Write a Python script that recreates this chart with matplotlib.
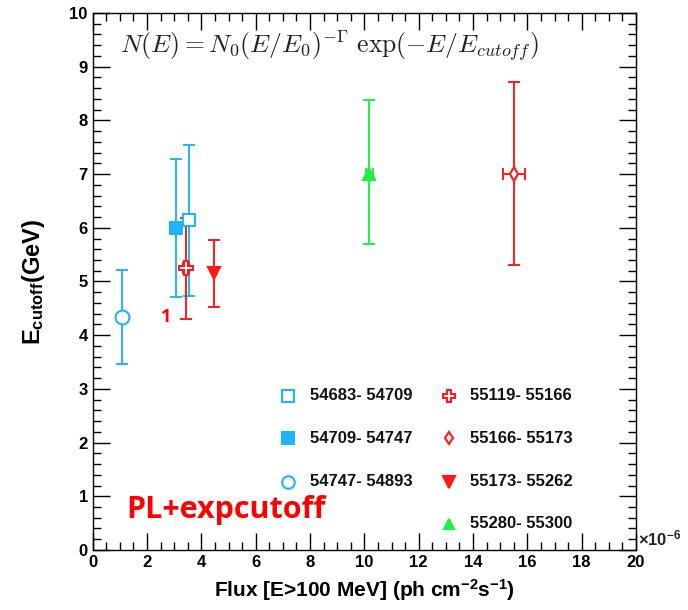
import numpy as np
import matplotlib.pyplot as plt
from matplotlib.ticker import MultipleLocator

plt.rcParams['font.family'] = ['Liberation Sans', 'DejaVu Sans']
plt.rcParams['mathtext.fontset'] = 'custom'
plt.rcParams['mathtext.rm'] = 'Liberation Sans:bold'
plt.rcParams['mathtext.it'] = 'Liberation Sans:bold'
plt.rcParams['mathtext.bf'] = 'Liberation Sans:bold'

# --- data: flux (1e-6 ph cm^-2 s^-1) vs cutoff energy (GeV) ---
periods = ["54683- 54709", "54709- 54747", "54747- 54893",
           "55119- 55166", "55166- 55173", "55173- 55262", "55280- 55300"]
flux = [3.56, 3.08, 1.08, 3.44, 15.5, 4.48, 10.18]
flux_err = [0.0, 0.0, 0.0, 0.1, 0.4, 0.0, 0.12]
ecut = [6.15, 6.00, 4.33, 5.25, 7.00, 5.16, 7.00]
ecut_lo = [1.42, 1.28, 0.87, 0.95, 1.70, 0.63, 1.31]
ecut_hi = [1.39, 1.29, 0.88, 0.94, 1.71, 0.61, 1.38]

blue = '#1fb5f7'
red = '#ff1a1a'
green = '#1fef46'
colors = [blue, blue, blue, red, red, red, green]
markers = ['s', 's', 'o', 'P', 'd', 'v', '^']
filled = [False, True, False, False, False, True, True]
msizes = [9, 9, 10, 10, 7, 9, 8]

fig = plt.figure(figsize=(6.88, 6.10), dpi=100)
ax = fig.add_axes([0.1347, 0.0984, 0.7898, 0.8803])

for i in range(len(periods)):
    ax.errorbar(flux[i], ecut[i],
                xerr=flux_err[i] if flux_err[i] > 0 else None,
                yerr=[[ecut_lo[i]], [ecut_hi[i]]],
                fmt='none', ecolor=colors[i], elinewidth=1.4,
                capsize=4, capthick=1.4, zorder=2)
    ax.plot(flux[i], ecut[i], marker=markers[i], ms=msizes[i],
            mfc=colors[i] if filled[i] else 'white', mec=colors[i],
            mew=1.5, ls='none', zorder=3)

ax.set_xlim(0, 20)
ax.set_ylim(0, 10)
ax.xaxis.set_major_locator(MultipleLocator(2))
ax.xaxis.set_minor_locator(MultipleLocator(0.5))
ax.yaxis.set_major_locator(MultipleLocator(1))
ax.yaxis.set_minor_locator(MultipleLocator(0.2))
ax.tick_params(which='both', direction='in', top=True, right=True,
               width=1.0, labelsize=12)
ax.tick_params(which='major', length=12)
ax.tick_params(which='minor', length=6)
for lab in ax.get_xticklabels() + ax.get_yticklabels():
    lab.set_fontweight('bold')
for sp in ax.spines.values():
    sp.set_linewidth(1.0)

ax.set_xlabel(r'Flux [E>100 MeV] (ph cm$^{-2}$s$^{-1}$)',
              fontsize=15, fontweight='bold', labelpad=5)
ax.set_ylabel(r'E$_{cutoff}$(GeV)', fontsize=17,
              fontweight='bold', labelpad=16)
ax.text(1.003, 0.003, r'$\times$10$^{-6}$', transform=ax.transAxes,
        fontsize=12, fontweight='bold', color='#222222', va='bottom')

formula = ax.text(0.05, 0.925,
                  r'$N(E) = N_0(E/E_0)^{-\Gamma}\ \exp(-E/E_{cutoff})$',
                  transform=ax.transAxes, fontsize=18.5, color='#222222')
formula.set_math_fontfamily('cm')

# legend drawn as marker + label pairs in two columns
leg_x = [0.36, 0.655]
leg_y = [0.287, 0.208, 0.127, 0.049]
for i in range(len(periods)):
    col = 0 if i < 3 else 1
    row = i if i < 3 else i - 3
    ax.plot(leg_x[col], leg_y[row], marker=markers[i], ms=msizes[i] - 1,
            mfc=colors[i] if filled[i] else 'white', mec=colors[i],
            mew=1.5, ls='none', transform=ax.transAxes, clip_on=False)
    ax.text(leg_x[col] + 0.04, leg_y[row], periods[i], transform=ax.transAxes,
            fontsize=12, fontweight='bold', va='center', color='#111111')

ax.text(0.062, 0.075, 'PL+expcutoff', transform=ax.transAxes,
        fontsize=22, fontweight='bold', color='#ff0000', va='center',
        family=['Open Sans', 'DejaVu Sans'])
ax.text(2.7, 4.33, '1', fontsize=13, fontweight='bold', color='#ff0000',
        va='center', ha='center', family=['Open Sans', 'DejaVu Sans'])

fig.savefig('out.png', dpi=100)
